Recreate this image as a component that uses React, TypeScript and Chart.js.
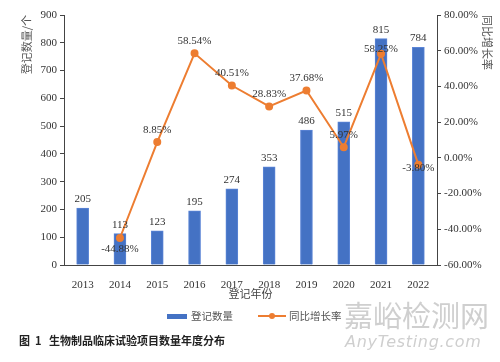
import React, { useEffect, useRef } from "react";
import { Chart, registerables } from "chart.js";

Chart.register(...registerables);

const years = ["2013", "2014", "2015", "2016", "2017", "2018", "2019", "2020", "2021", "2022"];
const counts = [205, 113, 123, 195, 274, 353, 486, 515, 815, 784];
const growth: (number | null)[] = [null, -44.88, 8.85, 58.54, 40.51, 28.83, 37.68, 5.97, 58.25, -3.8];
const growthLabelDy = [0, 11, -12, -12, -12, -12, -12, -12, -5, 3];

const FONT = "'Liberation Serif', 'Noto Sans CJK SC', serif";
const CJK = "'Noto Sans CJK SC', sans-serif";

const labelPlugin = {
  id: "valueLabels",
  afterDatasetsDraw(chart: any) {
    const ctx = chart.ctx;
    ctx.save();
    ctx.font = `11px ${FONT}`;
    ctx.fillStyle = "#333";
    ctx.textAlign = "center";
    ctx.textBaseline = "middle";
    const barMeta = chart.getDatasetMeta(0);
    barMeta.data.forEach((el: any, i: number) => {
      ctx.fillText(String(counts[i]), el.x, el.y - 9);
    });
    const lineMeta = chart.getDatasetMeta(1);
    lineMeta.data.forEach((el: any, i: number) => {
      const v = growth[i];
      if (v == null) return;
      ctx.fillText(v.toFixed(2) + "%", el.x, el.y + growthLabelDy[i]);
    });
    ctx.restore();
  },
};

export default function App() {
  const ref = useRef<HTMLCanvasElement>(null);
  useEffect(() => {
    document.body.style.margin = "0";
    const chart = new Chart(ref.current!, {
      type: "bar",
      data: {
        labels: years,
        datasets: [
          {
            type: "bar",
            label: "登记数量",
            data: counts,
            backgroundColor: "#4472C4",
            borderColor: "#5B85D6",
            borderWidth: 1,
            barThickness: 12,
            yAxisID: "y",
            order: 1,
          },
          {
            type: "line",
            label: "同比增长率",
            data: growth,
            borderColor: "#ED7D31",
            backgroundColor: "#ED7D31",
            borderWidth: 2,
            pointRadius: 3,
            pointBackgroundColor: "#ED7D31",
            pointBorderColor: "#ED7D31",
            yAxisID: "y1",
            order: 0,
          } as any,
        ],
      },
      options: {
        animation: false,
        responsive: false,
        layout: { padding: { top: 15, bottom: 59, left: 0, right: 0 } },
        plugins: { legend: { display: false }, tooltip: { enabled: false } },
        scales: {
          x: {
            grid: { display: false },
            border: { display: true, color: "#444", width: 1 },
            ticks: { font: { family: FONT, size: 11 }, color: "#333", padding: 6 },
            title: {
              display: true,
              text: "登记年份",
              font: { family: CJK, size: 11 },
              color: "#444",
              padding: { top: 2, bottom: 3 },
            },
            afterFit: (s: any) => {
              s.height = 38;
            },
          },
          y: {
            position: "left",
            min: 0,
            max: 900,
            ticks: { stepSize: 100, font: { family: FONT, size: 11 }, color: "#333", padding: 3 },
            grid: { drawOnChartArea: false, drawTicks: true, tickLength: 4, color: "#444" },
            border: { display: true, color: "#444", width: 1 },
            title: {
              display: true,
              text: "登记数量/个",
              align: "end",
              font: { family: CJK, size: 11 },
              color: "#555",
              padding: { top: 20, bottom: 0 },
            },
            afterFit: (s: any) => {
              s.width = 64;
            },
          },
          y1: {
            position: "right",
            min: -60,
            max: 80,
            ticks: {
              stepSize: 20,
              font: { family: FONT, size: 11 },
              color: "#333",
              padding: 3,
              callback: (v: any) => Number(v).toFixed(2) + "%",
            },
            grid: { drawOnChartArea: false, drawTicks: true, tickLength: 4, color: "#444" },
            border: { display: true, color: "#444", width: 1 },
            title: {
              display: true,
              text: "同比增长率",
              align: "end",
              font: { family: CJK, size: 11 },
              color: "#555",
              padding: { top: 6, bottom: 0 },
            },
            afterFit: (s: any) => {
              s.width = 63;
            },
          },
        },
      },
      plugins: [labelPlugin],
    });
    return () => chart.destroy();
  }, []);

  return (
    <div style={{ position: "relative", width: 500, height: 362, background: "#fff", overflow: "hidden" }}>
      <canvas ref={ref} width={500} height={362} style={{ position: "absolute", left: 0, top: 0 }} />
      <div
        style={{
          position: "absolute",
          left: 167,
          top: 309,
          display: "flex",
          alignItems: "center",
          fontFamily: CJK,
          fontSize: 10.5,
          color: "#555",
          lineHeight: "14px",
        }}
      >
        <span style={{ display: "inline-block", width: 20, height: 5, background: "#4472C4", marginRight: 4 }} />
        <span>登记数量</span>
        <span style={{ position: "relative", display: "inline-block", width: 28, height: 2, background: "#ED7D31", marginLeft: 25, marginRight: 3 }}>
          <span
            style={{
              position: "absolute",
              left: 11,
              top: -2,
              width: 6,
              height: 6,
              borderRadius: 3,
              background: "#ED7D31",
            }}
          />
        </span>
        <span>同比增长率</span>
      </div>
      <div
        style={{
          position: "absolute",
          left: 19,
          top: 332,
          fontFamily: CJK,
          fontSize: 11,
          fontWeight: 700,
          color: "#222",
          whiteSpace: "pre",
          lineHeight: "16px",
        }}
      >
        {"图  1   生物制品临床试验项目数量年度分布"}
      </div>
      <div
        style={{
          position: "absolute",
          left: 344,
          top: 296,
          fontFamily: CJK,
          fontSize: 29,
          color: "#cfcfcf",
          lineHeight: "36px",
          whiteSpace: "pre",
        }}
      >
        嘉峪检测网
      </div>
      <div
        style={{
          position: "absolute",
          left: 345,
          top: 332,
          fontFamily: "'DejaVu Sans', sans-serif",
          fontStyle: "italic",
          fontSize: 16,
          letterSpacing: 0.7,
          color: "#cfcfcf",
          lineHeight: "20px",
          whiteSpace: "pre",
        }}
      >
        AnyTesting.com
      </div>
    </div>
  );
}
